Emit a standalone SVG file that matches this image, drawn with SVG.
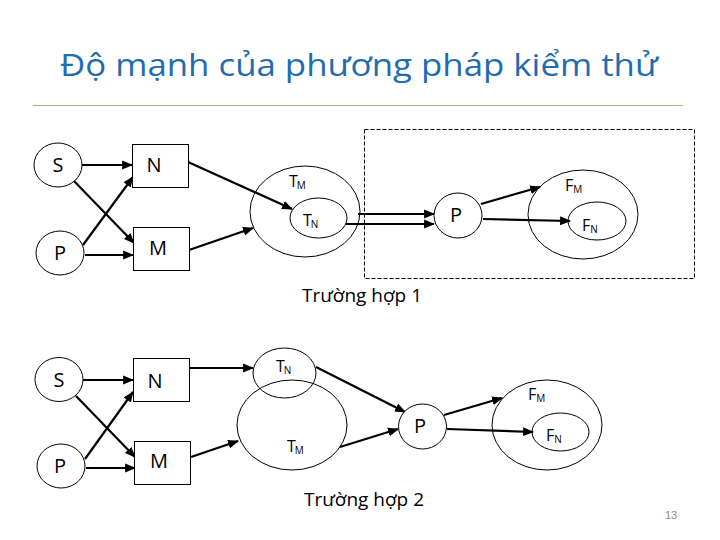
<svg xmlns="http://www.w3.org/2000/svg" width="720" height="540" viewBox="0 0 720 540">
<defs>
<style>
.shape{fill:#fff;stroke:#000;stroke-width:1}
.ell{fill:none;stroke:#000;stroke-width:1}
.arr{stroke:#000;stroke-width:2.2;fill:none;marker-end:url(#ah)}
.lbl{font-family:"Open Sans","Liberation Sans",sans-serif;font-size:20px;fill:#000;text-anchor:middle}
.sm{font-family:"Open Sans","Liberation Sans",sans-serif;font-size:16px;fill:#000}
.sub{font-size:10px}
.cap{font-family:"Open Sans","Liberation Sans",sans-serif;font-size:19px;fill:#000}
</style>
<marker id="ah" viewBox="0 0 10 10" refX="9" refY="5" markerWidth="5" markerHeight="5" orient="auto" markerUnits="strokeWidth">
<path d="M0,1 L10,5 L0,9 z" fill="#000"/>
</marker>
</defs>
<rect width="720" height="540" fill="#fff"/>
<text x="359" y="76" font-family="Open Sans, Liberation Sans, sans-serif" font-size="31" fill="#1F6CB0" text-anchor="middle" textLength="598" lengthAdjust="spacingAndGlyphs">Độ mạnh của phương pháp kiểm thử</text>
<line x1="33" y1="105.5" x2="683" y2="105.5" stroke="#A9B27A" stroke-width="1"/>

<g id="case1-frame"><rect x="364.5" y="129.5" width="330" height="149" fill="none" stroke="#000" stroke-width="1" stroke-dasharray="4,2"/></g>

<g id="connectors">
<line class="arr" x1="82" y1="165" x2="132" y2="165"/>
<line class="arr" x1="74" y1="181" x2="134" y2="243"/>
<line class="arr" x1="83" y1="245" x2="133" y2="177"/>
<line class="arr" x1="85" y1="255" x2="133" y2="255"/>
<line class="arr" x1="188" y1="162" x2="292" y2="209"/>
<line class="arr" x1="189" y1="250" x2="253" y2="228"/>
<line class="arr" x1="358" y1="214" x2="434" y2="214"/>
<line class="arr" x1="346" y1="224" x2="434" y2="224"/>
<line class="arr" x1="481" y1="204" x2="540" y2="187"/>
<line class="arr" x1="483" y1="219" x2="570" y2="221"/>

<line class="arr" x1="83" y1="380" x2="133" y2="380"/>
<line class="arr" x1="76" y1="396" x2="135" y2="457"/>
<line class="arr" x1="85" y1="459" x2="133" y2="392"/>
<line class="arr" x1="86" y1="468" x2="135" y2="468"/>
<line class="arr" x1="189" y1="368" x2="253" y2="368"/>
<line class="arr" x1="191" y1="457" x2="238" y2="441"/>
<line class="arr" x1="316" y1="367" x2="405" y2="412"/>
<line class="arr" x1="340" y1="447" x2="398" y2="429"/>
<line class="arr" x1="444" y1="415" x2="502" y2="398"/>
<line class="arr" x1="447" y1="429" x2="533" y2="432"/>
</g>

<g id="S1"><ellipse class="shape" cx="58" cy="165" rx="24" ry="22"/><text class="lbl" x="58" y="172">S</text></g>
<g id="N1"><rect class="shape" x="132.5" y="144.5" width="56" height="43"/><text class="lbl" x="154" y="172">N</text></g>
<g id="P1"><ellipse class="shape" cx="60" cy="253" rx="24" ry="22"/><text class="lbl" x="60" y="260">P</text></g>
<g id="M1"><rect class="shape" x="133.5" y="227.5" width="56" height="43"/><text class="lbl" x="158" y="255">M</text></g>
<g id="TM1"><ellipse class="ell" cx="305" cy="211.5" rx="55" ry="45.5"/><text class="sm" x="289" y="187">T<tspan class="sub" dx="-1" dy="2">M</tspan></text></g>
<g id="TN1"><ellipse class="ell" cx="318.5" cy="218" rx="28.5" ry="20"/><text class="sm" x="303" y="226">T<tspan class="sub" dx="-1" dy="2">N</tspan></text></g>
<g id="PP1"><ellipse class="shape" cx="458" cy="215.5" rx="24" ry="22.5"/><text class="lbl" x="456" y="222">P</text></g>
<g id="FM1"><ellipse class="ell" cx="583" cy="214.5" rx="55" ry="44.5"/><text class="sm" x="565" y="191">F<tspan class="sub" dy="2">M</tspan></text></g>
<g id="FN1"><ellipse class="ell" cx="597" cy="221" rx="29" ry="19"/><text class="sm" x="582" y="231">F<tspan class="sub" dy="2">N</tspan></text></g>
<text class="cap" x="302" y="302">Trường hợp 1</text>

<g id="S2"><ellipse class="shape" cx="59" cy="379.5" rx="24" ry="22"/><text class="lbl" x="59" y="387">S</text></g>
<g id="N2"><rect class="shape" x="133.5" y="358.5" width="56" height="43"/><text class="lbl" x="155" y="388">N</text></g>
<g id="P2"><ellipse class="shape" cx="61" cy="466" rx="24" ry="22"/><text class="lbl" x="60" y="473">P</text></g>
<g id="M2"><rect class="shape" x="134.5" y="441.5" width="56" height="43"/><text class="lbl" x="159" y="468">M</text></g>
<g id="TN2"><ellipse class="ell" cx="284.5" cy="373" rx="31.5" ry="25"/><text class="sm" x="276" y="372">T<tspan class="sub" dx="-1" dy="2">N</tspan></text></g>
<g id="TM2"><ellipse class="ell" cx="292" cy="425" rx="55" ry="45"/><text class="sm" x="287" y="452">T<tspan class="sub" dx="-1" dy="2">M</tspan></text></g>
<g id="PP2"><ellipse class="shape" cx="422.5" cy="426.5" rx="24" ry="22.5"/><text class="lbl" x="420" y="433">P</text></g>
<g id="FM2"><ellipse class="ell" cx="547" cy="425" rx="55" ry="45"/><text class="sm" x="528" y="400">F<tspan class="sub" dy="2">M</tspan></text></g>
<g id="FN2"><ellipse class="ell" cx="560.5" cy="432" rx="28.5" ry="19"/><text class="sm" x="546" y="441">F<tspan class="sub" dy="2">N</tspan></text></g>
<text class="cap" x="304" y="506">Trường hợp 2</text>

<text x="671" y="519" font-family="Liberation Sans, sans-serif" font-size="11" fill="#8A8A8A" text-anchor="middle">13</text>
</svg>
